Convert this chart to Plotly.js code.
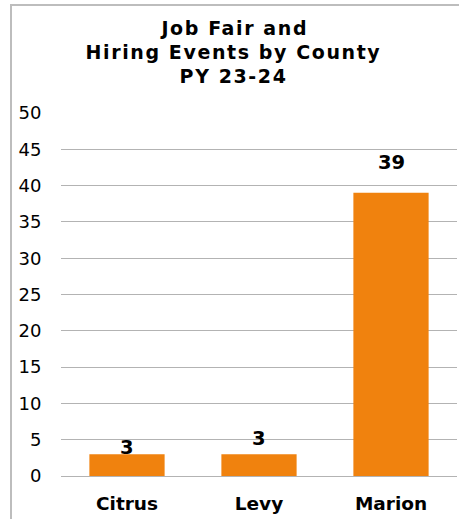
<!DOCTYPE html>
<html>
<head>
<meta charset="utf-8">
<script src="https://cdn.plot.ly/plotly-3.0.1.min.js"></script>
<style>
  html, body { margin: 0; padding: 0; background: #fff; }
  #frame { position: absolute; left: 10px; top: 4px; width: 470px; height: 540px;
           border: 2px solid #BDBDBD; box-sizing: border-box; }
  #chart { position: absolute; left: 0; top: 0; width: 459px; height: 519px; }
  .titleline text, text.titleline { letter-spacing: 1.6px; }
</style>
</head>
<body>
<div id="frame"></div>
<div id="chart"></div>
<script>
const categories = ["Citrus", "Levy", "Marion"];
const values = [3, 3, 39];
const labelShift = [7, 16, 30];
const yTicks = [0, 5, 10, 15, 20, 25, 30, 35, 40, 45, 50];
const titleLines = ["Job Fair and", "Hiring Events by County", "PY 23-24"];
const titleLineY = [1.234, 1.168, 1.102];

const FONT = "Verdana, 'DejaVu Sans', sans-serif";

const trace = {
  type: "bar",
  x: categories,
  y: values,
  marker: { color: "#F0820E" },
  hoverinfo: "skip"
};

const annotations = categories.map((c, i) => ({
  x: c, y: values[i], xref: "x", yref: "y",
  text: "<b>" + values[i] + "</b>",
  showarrow: false,
  yanchor: "middle",
  yshift: labelShift[i],
  font: { family: FONT, size: 19.5, color: "#000" }
}));

titleLines.forEach((t, i) => {
  annotations.push({
    x: 0.436, y: titleLineY[i], xref: "paper", yref: "paper",
    xanchor: "center", yanchor: "middle",
    text: "<b>" + t + "</b>",
    showarrow: false,
    font: { family: FONT, size: 19, color: "#000" }
  });
});

const layout = {
  width: 459, height: 519,
  paper_bgcolor: "rgba(0,0,0,0)",
  plot_bgcolor: "rgba(0,0,0,0)",
  margin: { l: 61, r: 2, t: 113, b: 43 },
  bargap: 0.43,
  showlegend: false,
  xaxis: {
    type: "category",
    tickfont: { family: FONT, size: 18.5, color: "#000" },
    ticks: "outside", ticklen: 11, tickcolor: "rgba(0,0,0,0)",
    showline: false, showgrid: false, fixedrange: true,
    tickprefix: "<b>", ticksuffix: "</b>"
  },
  yaxis: {
    range: [0, 50],
    tickvals: yTicks,
    tickfont: { family: FONT, size: 18, color: "#000" },
    ticks: "outside", ticklen: 15, tickcolor: "rgba(0,0,0,0)",
    showgrid: true, gridcolor: "#B3B3B3", gridwidth: 1,
    zeroline: true, zerolinecolor: "#B3B3B3", zerolinewidth: 1,
    showline: false, fixedrange: true
  },
  annotations: annotations
};

Plotly.newPlot("chart", [trace], layout, { displayModeBar: false, staticPlot: true }).then(() => {
  document.querySelectorAll(".annotation-text").forEach(el => {
    if (el.textContent.length > 3) el.style.letterSpacing = "1.6px";
  });
});
</script>
</body>
</html>
